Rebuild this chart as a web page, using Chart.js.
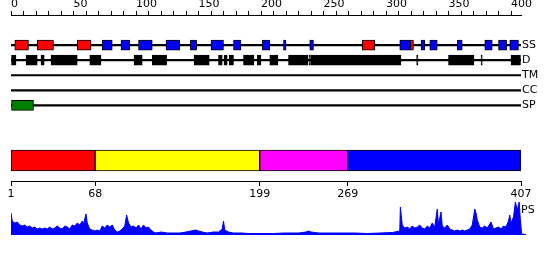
<!DOCTYPE html>
<html>
<head>
<meta charset="utf-8">
<script src="https://cdn.jsdelivr.net/npm/chart.js@4"></script>
<style>
  body { margin: 0; background: #fff; }
  .wrap { position: relative; width: 550px; height: 260px; }
  canvas { position: absolute; left: 0; }
</style>
</head>
<body>
<div class="wrap">
  <canvas id="tracks" width="550" height="122" style="top:0"></canvas>
  <canvas id="domains" width="550" height="70" style="top:140px"></canvas>
  <canvas id="ps" width="550" height="45" style="top:195px"></canvas>
</div>
<script>
// feature tracks, positions in residues
const trackNames = ["SS", "D", "TM", "CC", "SP"];
const helixRanges = [[3, 14], [21, 34], [53, 64], [281, 291], [319.5, 322]];
const strandRanges = [
  [73, 81], [88, 95], [102, 113], [124, 135], [143.5, 148.5], [160, 170],
  [178, 184], [201, 207], [218, 220], [239, 242], [311, 319.5], [328, 331],
  [335, 341], [357, 361], [379, 385], [390, 396.5], [399, 406]
];
const disorderRanges = [
  [0, 4], [12, 21], [24, 26.6], [32, 53], [63, 72], [98.4, 105], [113, 124.5],
  [146.4, 158.6], [166, 169], [170.4, 173], [174.6, 178], [186, 194.4],
  [197, 200], [207, 213.6], [222, 237.6], [238.4, 239.6], [240, 312],
  [324.5, 325.6], [350, 370.4], [376, 377], [400, 407.6]
];
const signalRanges = [[0, 18]];

// domain bar
const domainEdges = [1, 68, 199, 269, 407];
const domainColors = ["#ff0000", "#ffff00", "#ff00ff", "#0000ff"];

// PS profile
const psPos = [
  0, 1, 3, 5, 7, 9, 11, 13, 15, 17, 19, 21, 23, 25, 27, 29, 31, 33, 35, 37,
  39, 41, 43, 45, 47, 49, 51, 53, 55, 57, 58, 60, 61, 63, 65, 67, 69, 71, 73, 75,
  77, 79, 81, 83, 85, 87, 89, 91, 92.5, 94, 96, 98, 100, 102, 104, 106, 108, 110, 112, 114,
  116, 120, 125, 130, 135, 140, 144, 148, 150, 153, 157, 162, 166, 169, 170, 171, 174, 178, 185, 190,
  200, 210, 218, 222, 230, 236, 238, 240, 246, 255, 265, 275, 285, 295, 305, 311, 311.5, 313, 315, 317,
  319, 321, 323, 325, 327, 329, 331, 333, 335, 337, 339, 341, 342, 344, 345, 347, 349, 351, 353, 355,
  357, 359, 361, 363, 365, 367, 369, 371, 372, 373, 375, 377, 379, 381, 383, 384, 386, 388, 390, 392,
  394, 396, 398, 399, 400, 402, 403.5, 405, 406.5, 407.5, 408.5, 412
];
const psVal = [
  22, 14, 12, 13, 10, 9, 10, 8, 9, 7, 8, 6, 7, 6, 7, 6, 8, 6, 7, 9,
  7, 6, 9, 8, 6, 10, 9, 12, 10, 14, 11, 21, 12, 6, 5, 4, 5, 4, 9, 7,
  10, 8, 10, 5, 3, 4, 6, 9, 20, 12, 8, 9, 7, 10, 6, 10, 7, 8, 5, 3,
  2, 3, 2, 2, 2, 3, 4, 5, 4, 3, 2, 3, 3, 6, 14, 5, 3, 2, 2, 1.5,
  1.5, 1.5, 2, 2, 2, 3, 4, 3, 2, 2, 2, 2, 1.5, 2, 2.5, 4, 28, 10, 7, 8,
  6, 9, 7, 8, 10, 7, 6, 9, 7, 12, 8, 26, 10, 23, 9, 7, 10, 6, 5, 4,
  5, 4, 5, 4, 5, 6, 10, 26, 22, 15, 8, 7, 9, 7, 11, 13, 6, 7, 8, 6,
  9, 8, 14, 20, 12, 18, 33, 25, 33, 15, 1, 0.5
];

const font = { family: "DejaVu Sans", size: 11 };
const baseOpts = {
  responsive: false,
  animation: false,
  plugins: { legend: { display: false }, tooltip: { enabled: false } },
};

const rowOf = (name) => trackNames.indexOf(name) + 2;
const boxSet = (ranges, row, color) => ({
  data: ranges.map((r) => ({ x: r, y: row })),
  backgroundColor: color,
  borderColor: "#000",
  borderWidth: 1,
  borderSkipped: false,
  barThickness: 10,
  grouped: false,
  order: 1,
});

new Chart(document.getElementById("tracks"), {
  type: "bar",
  data: {
    datasets: [
      {
        // the track lines
        data: trackNames.map((n) => ({ x: [-0.8, 407.8], y: rowOf(n) })),
        backgroundColor: "#000",
        borderWidth: 0,
        barThickness: 1.5,
        grouped: false,
        order: 5,
      },
      boxSet(helixRanges, rowOf("SS"), "#ff0000"),
      boxSet(strandRanges, rowOf("SS"), "#0000ff"),
      boxSet(disorderRanges, rowOf("D"), "#000"),
      boxSet(signalRanges, rowOf("SP"), "#008000"),
    ],
  },
  options: {
    ...baseOpts,
    indexAxis: "y",
    layout: { padding: { left: 11, right: 0, top: 0, bottom: 0 } },
    scales: {
      x: {
        type: "linear",
        position: "top",
        min: 0,
        max: 408,
        offset: false,
        afterBuildTicks: (s) => {
          s.ticks = s.ticks.filter((t) => t.value % 10 === 0);
        },
        afterFit: (s) => {
          s.height = 15;
        },
        ticks: {
          stepSize: 10,
          includeBounds: false,
          autoSkip: false,
          maxRotation: 0,
          align: "start",
          padding: 0,
          color: "#000",
          font: font,
          callback: (v) => (v % 50 === 0 ? v : ""),
        },
        grid: {
          drawOnChartArea: false,
          drawTicks: true,
          tickLength: 4,
          tickWidth: 1,
          tickColor: "#000",
          color: "#000",
        },
        border: { color: "#000" },
      },
      y: {
        type: "linear",
        position: "right",
        reverse: true,
        min: 0,
        max: 7,
        offset: false,
        afterBuildTicks: (s) => {
          s.ticks = s.ticks.filter((t) => t.value >= 2 && t.value <= 6);
        },
        afterFit: (s) => {
          s.width = 29;
        },
        ticks: {
          stepSize: 1,
          autoSkip: false,
          padding: 1,
          color: "#000",
          font: { family: "DejaVu Sans", size: 11, lineHeight: 0.1 },
          callback: (v) => trackNames[v - 2] || "",
        },
        grid: { display: false, drawTicks: false },
        border: { display: false },
      },
    },
  },
});

new Chart(document.getElementById("domains"), {
  type: "bar",
  data: {
    datasets: [
      {
        data: domainColors.map((c, i) => ({ x: [domainEdges[i], domainEdges[i + 1]], y: 0.5 })),
        backgroundColor: domainColors,
        borderColor: "#000",
        borderWidth: 1,
        borderSkipped: false,
        barThickness: 21,
      },
    ],
  },
  options: {
    ...baseOpts,
    indexAxis: "y",
    layout: { padding: { left: 11, right: 29, top: 0, bottom: 0 } },
    scales: {
      x: {
        type: "linear",
        position: "bottom",
        min: 1,
        max: 407,
        afterBuildTicks: (s) => {
          s.ticks = domainEdges.map((v) => ({ value: v }));
        },
        afterFit: (s) => {
          s.height = 29;
        },
        ticks: { autoSkip: false, maxRotation: 0, padding: 2, color: "#000", font: font },
        grid: { drawOnChartArea: false, tickLength: 5, color: "#000" },
        border: { color: "#000" },
      },
      y: { type: "linear", min: 0, max: 1, display: false },
    },
  },
});

// "PS" label next to the profile
const psLabel = {
  id: "psLabel",
  afterDraw(chart) {
    const ctx = chart.ctx;
    ctx.save();
    ctx.fillStyle = "#000";
    ctx.font = "11px 'DejaVu Sans'";
    ctx.textBaseline = "middle";
    ctx.textAlign = "left";
    ctx.fillText("PS", 521, 15);
    ctx.restore();
  },
};

new Chart(document.getElementById("ps"), {
  type: "line",
  data: {
    datasets: [
      {
        data: psPos.map((x, i) => ({ x: x, y: psVal[i] })),
        borderColor: "#0000ff",
        backgroundColor: "#0000ff",
        borderWidth: 1,
        pointRadius: 0,
        fill: "origin",
        tension: 0,
      },
    ],
  },
  options: {
    ...baseOpts,
    layout: { padding: { left: 11, right: 23, top: 6, bottom: 5 } },
    scales: {
      x: { type: "linear", min: 0, max: 412.8, display: false },
      y: { type: "linear", min: 0, max: 34, display: false },
    },
  },
  plugins: [psLabel],
});
</script>
</body>
</html>
